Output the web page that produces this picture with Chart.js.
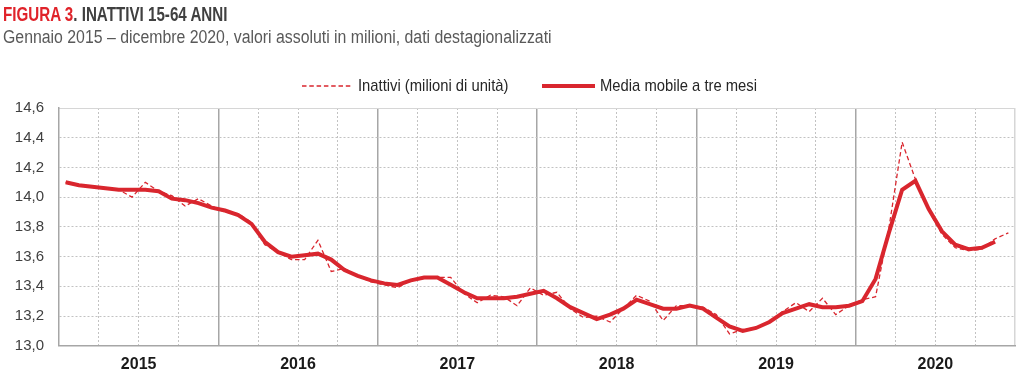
<!DOCTYPE html>
<html lang="it">
<head>
<meta charset="utf-8">
<script src="https://cdn.jsdelivr.net/npm/chart.js@4.4.1/dist/chart.umd.min.js"></script>
<style>
  html, body { margin: 0; background: #fff; }
  #wrap { position: relative; width: 1024px; height: 384px; overflow: hidden; }
  #wrap canvas { position: absolute; left: 0; top: 0; }
  .txt { position: absolute; white-space: nowrap; line-height: 1; font-family: 'Liberation Sans', Arial, sans-serif; transform-origin: 0 50%; transform: scaleX(0.8); }
  #title { left: 3px; top: 3.5px; font-size: 20.5px; font-weight: bold; color: #404040; transform: scaleX(0.74); }
  #title span { color: #e0232a; }
  #subtitle { left: 3px; top: 28px; font-size: 18px; color: #595959; transform: scaleX(0.88); }
  .leg { top: 77px; font-size: 17px; color: #262626; transform: scaleX(0.87); }
  .legline { position: absolute; display: block; }
</style>
</head>
<body>
<div id="wrap">
  <canvas id="chart" width="1024" height="384"></canvas>
  <div id="title" class="txt"><span>FIGURA 3</span>. INATTIVI 15-64 ANNI</div>
  <div id="subtitle" class="txt">Gennaio 2015 – dicembre 2020, valori assoluti in milioni, dati destagionalizzati</div>
</div>
<script>
const RED = '#d9262e';

const YEARS = ['2015', '2016', '2017', '2018', '2019', '2020'];

// valori mensili (milioni), gen 2015 - dic 2020
const INATTIVI = [
  14.10, 14.08, 14.07, 14.06, 14.05, 14.00, 14.10, 14.04, 14.01, 13.94, 13.99, 13.94,
  13.90, 13.89, 13.83, 13.68, 13.63, 13.58, 13.58, 13.71, 13.50, 13.52, 13.47, 13.43,
  13.41, 13.39, 13.44, 13.46, 13.46, 13.46, 13.35, 13.29, 13.34, 13.33, 13.27, 13.39,
  13.34, 13.36, 13.25, 13.19, 13.20, 13.16, 13.25, 13.34, 13.30, 13.17, 13.27, 13.27,
  13.26, 13.21, 13.08, 13.11, 13.12, 13.16, 13.23, 13.29, 13.23, 13.32, 13.21, 13.27,
  13.31, 13.33, 13.79, 14.37, 14.12, 13.91, 13.75, 13.66, 13.64, 13.65, 13.72, 13.76,
];

const MEDIA_MOBILE = [
  14.10, 14.08, 14.07, 14.06, 14.05, 14.05, 14.05, 14.04, 13.99, 13.98, 13.96, 13.93,
  13.91, 13.88, 13.82, 13.70, 13.63, 13.60, 13.61, 13.62, 13.58, 13.51, 13.47, 13.44,
  13.42, 13.41, 13.44, 13.46, 13.46, 13.41, 13.36, 13.32, 13.32, 13.32, 13.33, 13.35,
  13.37, 13.32, 13.26, 13.22, 13.18, 13.21, 13.25, 13.31, 13.28, 13.25, 13.25, 13.27,
  13.25, 13.19, 13.13, 13.10, 13.12, 13.16, 13.22, 13.25, 13.28, 13.26, 13.26, 13.27,
  13.30, 13.45, 13.76, 14.05, 14.11, 13.92, 13.77, 13.68, 13.65, 13.66, 13.70, null,
];

const Y_MIN = 13.0;
const Y_MAX = 14.6;
const Y_STEP = 0.2;

const MONTHS = YEARS.length * 12;
const toPoints = (values) => values.map((v, i) => ({ x: i + 0.5, y: v }));
const stepTicks = (step) => Array.from({ length: MONTHS / step + 1 }, (_, i) => ({ value: i * step }));

const datasets = [
  {
    label: 'Inattivi (milioni di unità)',
    data: toPoints(INATTIVI),
    borderColor: RED,
    borderWidth: 1.3,
    borderDash: [4.5, 2.8],
    pointRadius: 0,
    tension: 0,
  },
  {
    label: 'Media mobile a tre mesi',
    data: toPoints(MEDIA_MOBILE),
    borderColor: RED,
    borderWidth: 4,
    pointRadius: 0,
    tension: 0,
  },
];

// legenda in html: linea campione + testo
const wrap = document.getElementById('wrap');
const LEGEND_SLOTS = [{ line: 302, w: 51, text: 358 }, { line: 542, w: 53, text: 600 }];
datasets.forEach((ds, i) => {
  const s = LEGEND_SLOTS[i];
  const dash = ds.borderDash ? `stroke-dasharray="${ds.borderDash.join(' ')}"` : '';
  wrap.insertAdjacentHTML('beforeend',
    `<svg class="legline" style="left:${s.line}px;top:81px" width="${s.w}" height="10">` +
    `<line x1="0" y1="5" x2="${s.w}" y2="5" stroke="${RED}" stroke-width="${ds.borderWidth}" ${dash}/></svg>` +
    `<div class="txt leg" style="left:${s.text}px">${ds.label}</div>`);
});

new Chart(document.getElementById('chart').getContext('2d'), {
  type: 'line',
  data: { datasets },
  options: {
    responsive: false,
    animation: false,
    layout: { padding: { top: 108, right: 0, bottom: 1, left: 0 } },
    plugins: { legend: { display: false }, tooltip: { enabled: false } },
    scales: {
      x: {
        type: 'linear',
        min: 0,
        max: MONTHS,
        afterBuildTicks: (scale) => { scale.ticks = stepTicks(3); },
        grid: {
          drawTicks: false,
          color: (c) => (c.tick && c.tick.value % 12 === 0 ? 'rgba(0,0,0,0)' : '#c2c2c2'),
          lineWidth: 1,
        },
        border: { display: true, color: '#a6a6a6', width: 1.5, dash: [2, 2] },
        ticks: {
          autoSkip: false,
          maxRotation: 0,
          padding: 9,
          color: '#1a1a1a',
          font: { family: "'Liberation Sans', Arial, sans-serif", size: 16, weight: 'bold' },
          callback: (v) => (v % 12 === 6 ? YEARS[(v - 6) / 12] : ''),
        },
      },
      x2: {
        type: 'linear',
        position: 'top',
        min: 0,
        max: MONTHS,
        afterBuildTicks: (scale) => { scale.ticks = stepTicks(12); },
        grid: {
          drawTicks: false,
          color: (c) => {
            const v = c.tick ? c.tick.value : -1;
            if (v === 0) return 'rgba(0,0,0,0)';
            if (v === MONTHS) return '#d6d6d6';
            return '#a6a6a6';
          },
          lineWidth: 1.5,
        },
        border: { display: true, color: '#d6d6d6', width: 1 },
        ticks: { display: false },
      },
      y: {
        min: Y_MIN,
        max: Y_MAX,
        afterFit: (scale) => { scale.width = 59; },
        ticks: {
          stepSize: Y_STEP,
          padding: 15,
          color: '#404040',
          font: { family: "'Liberation Sans', Arial, sans-serif", size: 15 },
          callback: (v) => v.toFixed(1).replace('.', ','),
        },
        grid: {
          drawTicks: false,
          color: (c) => {
            const v = c.tick ? c.tick.value : 0;
            return Math.abs(v - Y_MIN) < 1e-6 || Math.abs(v - Y_MAX) < 1e-6 ? 'rgba(0,0,0,0)' : '#c2c2c2';
          },
        },
        border: { display: true, color: '#a6a6a6', width: 1.5, dash: [2, 2] },
      },
    },
  },
});
</script>
</body>
</html>
